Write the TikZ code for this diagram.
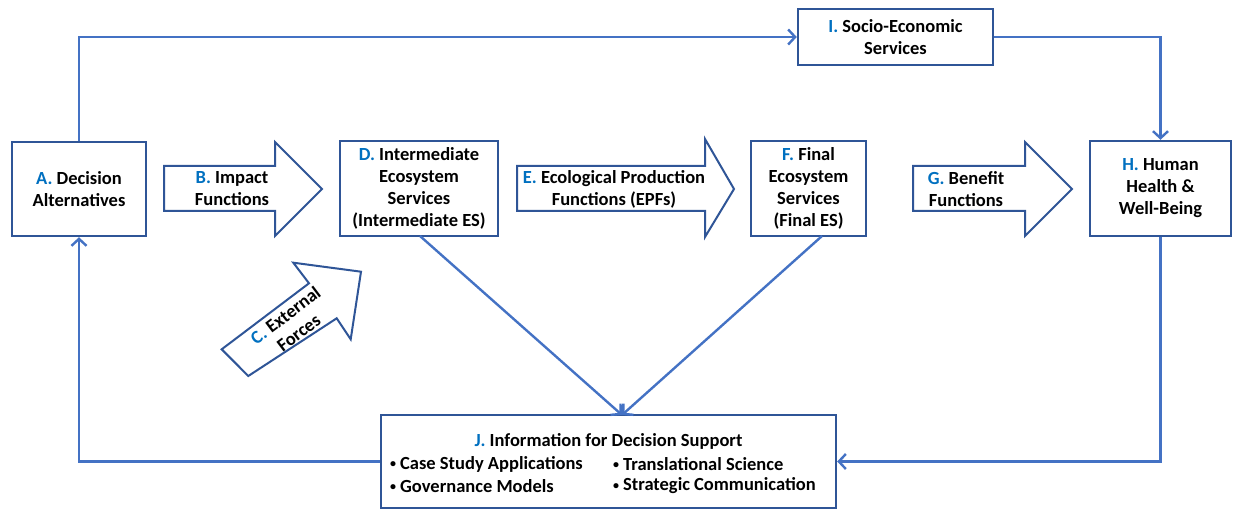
\documentclass[tikz,border=0pt]{standalone}
\usepackage{fontspec}
\setmainfont{Carlito}
\usetikzlibrary{arrows.meta,calc}
\definecolor{boxblue}{HTML}{2F5597}
\definecolor{linkblue}{HTML}{4472C4}
\definecolor{lettblue}{HTML}{0070C0}
\newcommand{\ltr}[1]{{\color{lettblue}#1}}
\newcommand{\bul}{\raisebox{1.5pt}{\fontsize{12}{12}\selectfont\textbullet}\hspace{4pt}}
\begin{document}
\begin{tikzpicture}[x=1pt,y=-1pt,
  txt/.style={font=\bfseries\fontsize{18.5}{22}\selectfont, align=center, inner sep=0pt, text=black},
  box/.style={txt, draw=boxblue, line width=2.4pt, fill=white},
  barrow/.style={draw=boxblue, line width=2pt, fill=white, line join=miter},
  link/.style={draw=linkblue, line width=2.4pt, -{Straight Barb[length=7pt,width=15pt]}}
]
\useasboundingbox (0,0) rectangle (1242,510);

% boxes
\node[box, minimum width=134, minimum height=94] (A) at (79,189) {\ltr{A.} Decision\\Alternatives};
\node[box, minimum width=158, minimum height=95] (D) at (419,188.5) {\ltr{D.} Intermediate\\Ecosystem\\Services\\(Intermediate ES)};
\node[box, minimum width=115, minimum height=95] (F) at (808.5,188.5) {\ltr{F.} Final\\Ecosystem\\Services\\(Final ES)};
\node[box, minimum width=141, minimum height=95] (H) at (1160.5,188.5) {\ltr{H.} Human\\Health \&\\Well-Being};
\node[box, minimum width=195, minimum height=56] (I) at (895.5,37) {\ltr{I.} Socio-Economic\\Services};
\node[box, minimum width=455, minimum height=93] (J) at (608.5,461.5) {};
\node[txt] (Jt) at (608.5,441) {\ltr{J.} Information for Decision Support};
\node[txt, anchor=west] (J1) at (390,464) {\bul Case Study Applications};
\node[txt, anchor=west] (J2) at (613,464) {\bul Translational Science};
\node[txt, anchor=west] (J3) at (390,486) {\bul Governance Models};
\node[txt, anchor=west] (J4) at (613,486) {\bul Strategic Communication};

% block arrows
\draw[barrow] (164,166) -- (275,166) -- (275,142) -- (322,189) -- (275,236) -- (275,211) -- (164,211) -- cycle;
\node[txt] (B) at (232,189) {\ltr{B.} Impact\\Functions};
\draw[barrow] (517,166) -- (705,166) -- (705,139) -- (734,189) -- (705,237) -- (705,211) -- (517,211) -- cycle;
\node[txt] (E) at (614,189) {\ltr{E.} Ecological Production\\Functions (EPFs)};
\draw[barrow] (913,166) -- (1025,166) -- (1025,142) -- (1072,189) -- (1025,236) -- (1025,211) -- (913,211) -- cycle;
\node[txt] (G) at (966,189) {\ltr{G.} Benefit\\Functions};
\draw[barrow] (221.7,349.3) -- (309,283.3) -- (293.3,262.7) -- (361,271.7) -- (350.7,339.3) -- (336.7,318.3) -- (248.3,376) -- cycle;
\node[txt, rotate=37] (C) at (292,324) {\ltr{C.} External\\Forces};

% connectors
\coordinate (jin) at (622,415);
\coordinate (dout) at (420,236);
\coordinate (fout) at (822,236);
\draw[link] (A.north) |- (I.west);
\draw[link] (I.east) -| (H.north);
\draw[link] (H.south) |- (J.east);
\draw[link] (J.west) -| (A.south);
\draw[link] (dout) -- (jin);
\draw[link] (fout) -- (jin);
\end{tikzpicture}
\end{document}
